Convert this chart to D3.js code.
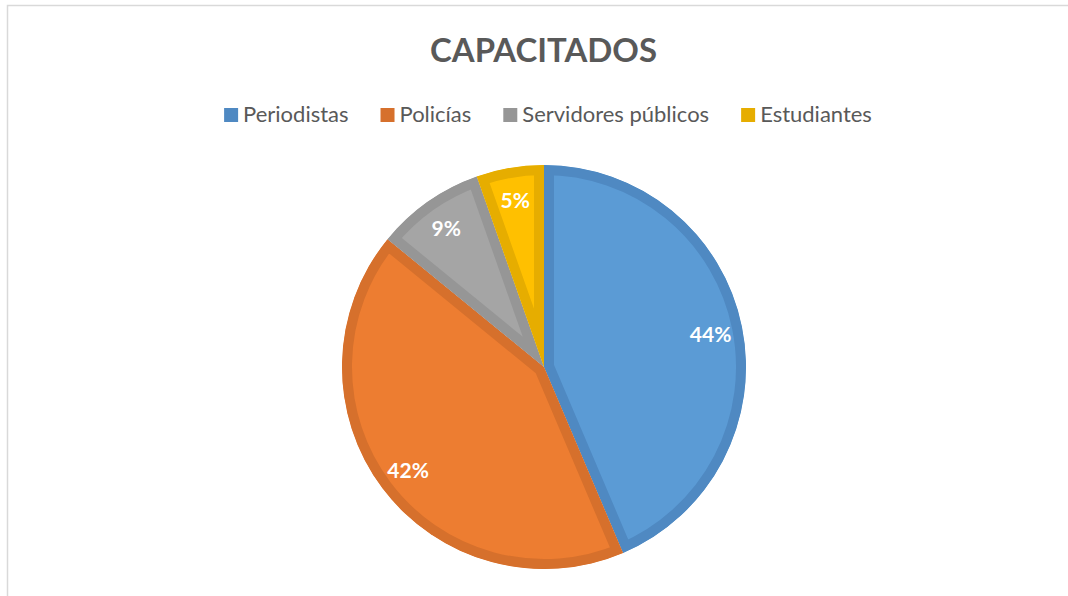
<!DOCTYPE html>
<html>
<head>
<meta charset="utf-8">
<script src="https://cdn.jsdelivr.net/npm/d3@7"></script>
<style>
  html, body { margin: 0; padding: 0; background: #ffffff; }
  svg { display: block; }
</style>
</head>
<body>
<svg id="chart" width="1068" height="596"></svg>
<script>
// ---- data ----
const title = "CAPACITADOS";
const categories = ["Periodistas", "Policías", "Servidores públicos", "Estudiantes"];
const values = [43.6, 42.3, 8.7, 5.4];
const fillColors = ["#5B9BD5", "#ED7D31", "#A5A5A5", "#FFC000"];
const borderColors = ["#4F89C2", "#D6702C", "#969696", "#E6AD00"];

const W = 1068, H = 596;
const FONT = "Lato, 'Open Sans', 'Noto Sans', sans-serif";
const svg = d3.select("#chart");

// chart area frame (left + top lines)
svg.append("path")
  .attr("d", `M7.5,${H} L7.5,5.5 L${W},5.5`)
  .attr("fill", "none")
  .attr("stroke", "#D9D9D9")
  .attr("stroke-width", 1.5);

// helper: scale font so text fits target width
function fitText(sel, targetWidth) {
  const base = 20;
  sel.attr("font-size", base);
  const w = sel.node().getComputedTextLength();
  sel.attr("font-size", base * targetWidth / w);
}

// ---- title ----
const t = svg.append("text")
  .attr("x", 543.5).attr("y", 62)
  .attr("text-anchor", "middle")
  .attr("font-family", FONT)
  .attr("font-weight", "bold")
  .attr("fill", "#595959")
  .text(title);
fitText(t, 227);

// ---- legend ----
const legend = svg.append("g");
const legendTexts = categories.map(c => legend.append("text")
  .attr("font-family", FONT).attr("fill", "#595959").attr("y", 121.5).text(c));
legendTexts.forEach(s => s.attr("font-size", 20));
let tot = legendTexts.reduce((a, s) => a + s.node().getComputedTextLength(), 0);
const legendFs = 20 * 476 / tot;
legendTexts.forEach(s => s.attr("font-size", legendFs));
const sw = 14, gapST = 5, gapItem = 32;
const widths = legendTexts.map(s => s.node().getComputedTextLength());
const totalW = widths.reduce((a, b) => a + b, 0) + categories.length * (sw + gapST) + (categories.length - 1) * gapItem;
let lx = 548 - totalW / 2;
categories.forEach((c, i) => {
  legend.append("rect")
    .attr("x", lx).attr("y", 108).attr("width", sw).attr("height", sw)
    .attr("fill", borderColors[i]);
  legendTexts[i].attr("x", lx + sw + gapST);
  lx += sw + gapST + widths[i] + gapItem;
});

// ---- pie ----
const cx = 544, cy = 367, R = 202, borderW = 10;
const pie = d3.pie().sort(null).value(d => d);
const arcs = pie(values);
const arc = d3.arc().innerRadius(0).outerRadius(R);
const defs = svg.append("defs");

arcs.forEach((a, i) => {
  const id = "clip" + i;
  defs.append("clipPath").attr("id", id)
    .append("path").attr("d", arc(a)).attr("transform", `translate(${cx},${cy})`);
  const sg = svg.append("g").attr("clip-path", `url(#${id})`)
    .append("g").attr("transform", `translate(${cx},${cy})`);
  sg.append("path")
    .attr("d", arc(a))
    .attr("fill", fillColors[i])
    .attr("stroke", borderColors[i])
    .attr("stroke-width", borderW * 2)
    .attr("stroke-linejoin", "miter");
});

// ---- data labels ----
const total = d3.sum(values);
const labelArc = d3.arc().innerRadius(170).outerRadius(170);
const lg = svg.append("g").attr("transform", `translate(${cx},${cy})`);
arcs.forEach((a, i) => {
  const [x, y] = labelArc.centroid(a);
  lg.append("text")
    .attr("x", x).attr("y", y)
    .attr("text-anchor", "middle")
    .attr("dominant-baseline", "central")
    .attr("font-family", FONT)
    .attr("font-weight", "bold")
    .attr("font-size", 21)
    .attr("fill", "#ffffff")
    .text(Math.round(values[i] / total * 100) + "%");
});
</script>
</body>
</html>
